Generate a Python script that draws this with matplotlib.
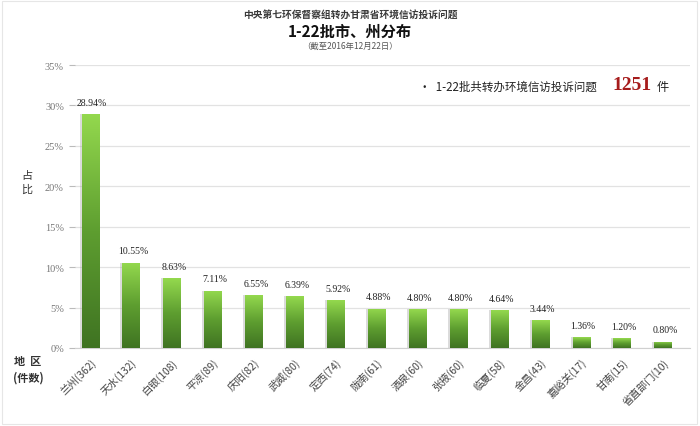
import numpy as np
import matplotlib
matplotlib.use("Agg")
import matplotlib.pyplot as plt
from matplotlib.colors import LinearSegmentedColormap
from matplotlib.patches import Rectangle

plt.rcParams['font.family'] = ['Noto Sans CJK SC', 'DejaVu Sans']

regions = ['兰州', '天水', '白银', '平凉', '庆阳', '武威', '定西', '陇南',
           '酒泉', '张掖', '临夏', '金昌', '嘉峪关', '甘南', '省直部门']
counts = [362, 132, 108, 89, 82, 80, 74, 61, 60, 60, 58, 43, 17, 15, 10]
shares = [28.94, 10.55, 8.63, 7.11, 6.55, 6.39, 5.92, 4.88, 4.80, 4.80,
          4.64, 3.44, 1.36, 1.20, 0.80]
yticks = [0, 5, 10, 15, 20, 25, 30, 35]
total = 1251

fig = plt.figure(figsize=(7, 4.27), dpi=100)
fig.patch.set_facecolor('white')
ax = fig.add_axes([75 / 700, 78 / 427, 615 / 700, 283 / 427])

x = np.arange(len(regions))
width = 0.42
cmap = LinearSegmentedColormap.from_list('grn', ['#3f7322', '#5e9e30', '#94d94e'])
grad = np.linspace(0, 1, 256).reshape(-1, 1)

for xi, v in zip(x, shares):
    # soft shadow on the left side of each bar
    ax.add_patch(Rectangle((xi - width / 2 - 0.05, 0), width, v,
                           facecolor='#9a9a9a', alpha=0.35, edgecolor='none', zorder=2))
    bar = ax.bar(xi, v, width=width, color='none', edgecolor='none', zorder=3)[0]
    im = ax.imshow(grad, cmap=cmap, aspect='auto', origin='lower',
                   extent=(xi - width / 2, xi + width / 2, 0, v), zorder=3)
    im.set_clip_path(bar)
    ax.text(xi + 0.05, v + 0.9, f'{v:.2f}%', ha='center', va='bottom', fontsize=7,
            family=['Liberation Serif'], color='#222222', zorder=4)

ax.set_xlim(-0.37, 14.66)
ax.set_ylim(0, 35)
ax.set_yticks(yticks)
ax.set_yticklabels([f'{t}%' for t in yticks], fontsize=7.5, color='#777777',
                   family=['Liberation Serif'])
ax.tick_params(axis='y', length=4, color='#bbbbbb', pad=4)
ax.set_xticks(x)
ax.set_xticklabels([f'{r}({c})' for r, c in zip(regions, counts)], rotation=45,
                   ha='right', rotation_mode='anchor', fontsize=7.5, color='#444444')
ax.tick_params(axis='x', length=0, pad=6)
ax.yaxis.grid(True, color='#e2e2e2', linewidth=0.9)
ax.set_axisbelow(True)
for s in ['top', 'right', 'left']:
    ax.spines[s].set_visible(False)
ax.spines['bottom'].set_color('#d0d0d0')
ax.set_facecolor('white')

fig.text(0.5, 1 - 15 / 427, '中央第七环保督察组转办甘肃省环境信访投诉问题', ha='center',
         va='center', fontsize=7, fontweight='bold', color='#3a3a3a')
fig.text(0.5, 1 - 32 / 427, '1-22批市、州分布', ha='center', va='center',
         fontsize=11, fontweight='bold', color='#111111')
fig.text(0.5, 1 - 46 / 427, '（截至2016年12月22日）', ha='center', va='center',
         fontsize=6, color='#555555')

fig.text(419 / 700, 1 - 87 / 427, '•  1-22批共转办环境信访投诉问题', ha='left',
         va='center', fontsize=8.3, color='#222222')
fig.text(612 / 700, 1 - 86 / 427, str(total), ha='left', va='center', fontsize=14,
         fontweight='bold', family=['Liberation Serif'], color='#a61c1c')
fig.text(657 / 700, 1 - 87 / 427, '件', ha='left', va='center', fontsize=8.8,
         color='#222222')

fig.text(27 / 700, 1 - 183 / 427, '占\n比', ha='center', va='center', fontsize=8,
         color='#333333', linespacing=1.5)
fig.text(28 / 700, 1 - 370 / 427, '地  区\n(件数)', ha='center', va='center',
         fontsize=8, fontweight='bold', color='#333333', linespacing=1.3)

fig.add_artist(Rectangle((2 / 700, 2 / 427), 695 / 700, 423 / 427,
                         transform=fig.transFigure, fill=False,
                         edgecolor='#e6e6e6', linewidth=0.8))

fig.savefig('out.png', dpi=100, facecolor='white')
